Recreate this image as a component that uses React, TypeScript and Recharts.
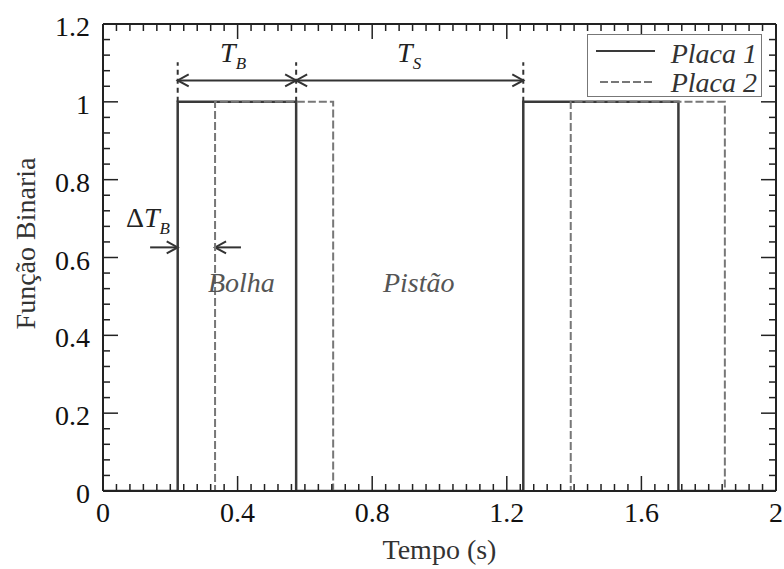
import { LineChart, Line, XAxis, YAxis, ReferenceLine, ReferenceDot, Legend } from 'recharts'

// ── Dados ─────────────────────────────────────────────────────────────────────

const placa1Tempo = [0, 0.222, 0.574, 1.249, 1.71, 2]
const placa1Valor = [0, 1, 0, 1, 0, 0]
const placa2Tempo = [0, 0.333, 0.684, 1.39, 1.848, 2]
const placa2Valor = [0, 1, 0, 1, 0, 0]

const xMajor = [0, 0.4, 0.8, 1.2, 1.6, 2]
const xMinor = [
  0, 0.04, 0.08, 0.12, 0.16, 0.2, 0.24, 0.28, 0.32, 0.36, 0.4, 0.44, 0.48, 0.52, 0.56, 0.6, 0.64,
  0.68, 0.72, 0.76, 0.8, 0.84, 0.88, 0.92, 0.96, 1, 1.04, 1.08, 1.12, 1.16, 1.2, 1.24, 1.28, 1.32,
  1.36, 1.4, 1.44, 1.48, 1.52, 1.56, 1.6, 1.64, 1.68, 1.72, 1.76, 1.8, 1.84, 1.88, 1.92, 1.96, 2,
]
const yMajor = [0, 0.2, 0.4, 0.6, 0.8, 1, 1.2]
const yMinor = [
  0, 0.04, 0.08, 0.12, 0.16, 0.2, 0.24, 0.28, 0.32, 0.36, 0.4, 0.44, 0.48, 0.52, 0.56, 0.6, 0.64,
  0.68, 0.72, 0.76, 0.8, 0.84, 0.88, 0.92, 0.96, 1, 1.04, 1.08, 1.12, 1.16, 1.2,
]

const placa1 = placa1Tempo.map((t, i) => ({ t, v: placa1Valor[i] }))
const placa2 = placa2Tempo.map((t, i) => ({ t, v: placa2Valor[i] }))

// annotation heights (data units)
const ySeta = 1.055
const yMarcaTopo = 1.102
const ySetaDelta = 0.626

const FONT = '"Liberation Serif", "Times New Roman", serif'
const AXIS = '#222'

const isMajor = (v: number, list: number[]) => list.some(m => Math.abs(m - v) < 1e-6)

// ── Ticks (inward, major + minor) ─────────────────────────────────────────────

function BottomTick({ x, y, payload }: any) {
  const major = isMajor(payload.value, xMajor)
  return (
    <g>
      <line x1={x} x2={x} y1={y} y2={y - (major ? 15 : 7)} stroke={AXIS} strokeWidth={1.5} />
      {major && (
        <text x={x} y={y + 31} textAnchor="middle" fontFamily={FONT} fontSize={28} fill="#111">
          {String(payload.value)}
        </text>
      )}
    </g>
  )
}

function TopTick({ x, y, payload }: any) {
  const major = isMajor(payload.value, xMajor)
  return <line x1={x} x2={x} y1={y} y2={y + (major ? 15 : 7)} stroke={AXIS} strokeWidth={1.5} />
}

function LeftTick({ x, y, payload }: any) {
  const major = isMajor(payload.value, yMajor)
  return (
    <g>
      <line x1={x} x2={x + (major ? 15 : 7)} y1={y} y2={y} stroke={AXIS} strokeWidth={1.5} />
      {major && (
        <text x={x - 13} y={y + 12} textAnchor="end" fontFamily={FONT} fontSize={28} fill="#111">
          {String(payload.value)}
        </text>
      )}
    </g>
  )
}

function RightTick({ x, y, payload }: any) {
  const major = isMajor(payload.value, yMajor)
  return <line x1={x} x2={x - (major ? 15 : 7)} y1={y} y2={y} stroke={AXIS} strokeWidth={1.5} />
}

// ── Annotations ───────────────────────────────────────────────────────────────

function seta(start: boolean, end: boolean) {
  return (p: any) => {
    const { x1, y1, x2, y2 } = p
    const d = x2 >= x1 ? 1 : -1
    return (
      <g stroke="#333" strokeWidth={2} fill="none">
        <line x1={x1} y1={y1} x2={x2} y2={y2} />
        {end && <path d={`M${x2 - d * 11},${y2 - 6} L${x2},${y2} L${x2 - d * 11},${y2 + 6}`} />}
        {start && <path d={`M${x1 + d * 11},${y1 - 6} L${x1},${y1} L${x1 + d * 11},${y1 + 6}`} />}
      </g>
    )
  }
}

function nota(kind: 'TB' | 'TS' | 'DTB' | 'Bolha' | 'Pistao') {
  return (props: any) => {
    const { x, y } = props.viewBox
    if (kind === 'Bolha' || kind === 'Pistao') {
      return (
        <text x={x} y={y} fontFamily={FONT} fontSize={28} fontStyle="italic" fill="#555">
          {kind === 'Bolha' ? 'Bolha' : 'Pistão'}
        </text>
      )
    }
    const sub = kind === 'TS' ? 'S' : 'B'
    return (
      <text x={x} y={y} fontFamily={FONT} fontSize={28} fill="#222">
        {kind === 'DTB' && <tspan>Δ</tspan>}
        <tspan fontStyle="italic">T</tspan>
        <tspan fontStyle="italic" fontSize={17} dy={7}>{sub}</tspan>
      </text>
    )
  }
}

// ── Legend ────────────────────────────────────────────────────────────────────

function LegendBox({ payload }: any) {
  return (
    <svg width={175} height={63} style={{ display: 'block' }}>
      <rect x={0.5} y={0.5} width={174} height={62} fill="#fff" stroke="#777" strokeWidth={1} />
      {(payload ?? []).map((e: any, i: number) => (
        <g key={e.value}>
          <line
            x1={i === 0 ? 9 : 13} x2={68} y1={17 + i * 31} y2={17 + i * 31}
            stroke={e.color} strokeWidth={2}
            strokeDasharray={e.payload?.strokeDasharray}
          />
          <text x={170} y={29 + i * 29} textAnchor="end" fontFamily={FONT} fontSize={28}
            fontStyle="italic" fill="#333">
            {e.value}
          </text>
        </g>
      ))}
    </svg>
  )
}

// ── Main ──────────────────────────────────────────────────────────────────────

export default function App() {
  return (
    <div style={{ position: 'absolute', left: 0, top: 0, background: '#fff' }}>
      <LineChart width={784} height={569} margin={{ top: 23, right: 7, bottom: 0, left: 0 }}>
        <XAxis
          xAxisId="bottom" dataKey="t" type="number" domain={[0, 2]} allowDataOverflow
          ticks={xMinor} interval={0} tick={<BottomTick />} tickLine={false}
          tickSize={0} tickMargin={0} height={78}
          axisLine={{ stroke: AXIS, strokeWidth: 2 }}
          label={(p: any) => (
            <text x={p.viewBox.x + p.viewBox.width / 2} y={p.viewBox.y + 68} textAnchor="middle"
              fontFamily={FONT} fontSize={28} fill="#333">
              Tempo (s)
            </text>
          )}
        />
        <XAxis
          xAxisId="top" orientation="top" dataKey="t" type="number" domain={[0, 2]} allowDataOverflow
          ticks={xMinor} interval={0} tick={<TopTick />} tickLine={false}
          tickSize={0} tickMargin={0} height={1}
          axisLine={{ stroke: AXIS, strokeWidth: 2 }}
        />
        <YAxis
          yAxisId="left" type="number" domain={[0, 1.2]} allowDataOverflow
          ticks={yMinor} interval={0} tick={<LeftTick />} tickLine={false}
          tickSize={0} tickMargin={0} width={103}
          axisLine={{ stroke: AXIS, strokeWidth: 2 }}
          label={(p: any) => {
            const cx = p.viewBox.x + 35
            const cy = p.viewBox.y + p.viewBox.height / 2 - 14
            return (
              <text transform={`translate(${cx},${cy}) rotate(-90)`} textAnchor="middle"
                fontFamily={FONT} fontSize={28} fill="#333">
                Função Binaria
              </text>
            )
          }}
        />
        <YAxis
          yAxisId="right" orientation="right" type="number" domain={[0, 1.2]} allowDataOverflow
          ticks={yMinor} interval={0} tick={<RightTick />} tickLine={false}
          tickSize={0} tickMargin={0} width={1}
          axisLine={{ stroke: AXIS, strokeWidth: 2 }}
        />

        {/* marker lines above the Placa 1 edges */}
        {[placa1Tempo[1], placa1Tempo[2], placa1Tempo[3]].map(t => (
          <ReferenceLine
            key={t} xAxisId="bottom" yAxisId="left"
            segment={[{ x: t, y: 1 }, { x: t, y: yMarcaTopo }]}
            stroke="#333" strokeWidth={2} strokeDasharray="5 4"
          />
        ))}
        <ReferenceLine
          xAxisId="bottom" yAxisId="left"
          segment={[{ x: placa1Tempo[1], y: ySeta }, { x: placa1Tempo[2], y: ySeta }]}
          shape={seta(true, true)}
        />
        <ReferenceLine
          xAxisId="bottom" yAxisId="left"
          segment={[{ x: placa1Tempo[2], y: ySeta }, { x: placa1Tempo[3], y: ySeta }]}
          shape={seta(true, true)}
        />
        <ReferenceLine
          xAxisId="bottom" yAxisId="left"
          segment={[{ x: 0.14, y: ySetaDelta }, { x: placa1Tempo[1], y: ySetaDelta }]}
          shape={seta(false, true)}
        />
        <ReferenceLine
          xAxisId="bottom" yAxisId="left"
          segment={[{ x: 0.41, y: ySetaDelta }, { x: placa2Tempo[1], y: ySetaDelta }]}
          shape={seta(false, true)}
        />

        <Line
          xAxisId="bottom" yAxisId="left" data={placa1} dataKey="v" name="Placa 1"
          type="stepAfter" stroke="#3a3a3a" strokeWidth={2.5} dot={false}
          isAnimationActive={false}
        />
        <Line
          xAxisId="bottom" yAxisId="left" data={placa2} dataKey="v" name="Placa 2"
          type="stepAfter" stroke="#777" strokeWidth={2} strokeDasharray="8 3" dot={false}
          isAnimationActive={false}
        />

        <ReferenceDot xAxisId="bottom" yAxisId="left" x={0.348} y={1.1017} r={0}
          fill="none" stroke="none" label={nota('TB')} />
        <ReferenceDot xAxisId="bottom" yAxisId="left" x={0.874} y={1.1017} r={0}
          fill="none" stroke="none" label={nota('TS')} />
        <ReferenceDot xAxisId="bottom" yAxisId="left" x={0.068} y={0.6795} r={0}
          fill="none" stroke="none" label={nota('DTB')} />
        <ReferenceDot xAxisId="bottom" yAxisId="left" x={0.312} y={0.512} r={0}
          fill="none" stroke="none" label={nota('Bolha')} />
        <ReferenceDot xAxisId="bottom" yAxisId="left" x={0.832} y={0.512} r={0}
          fill="none" stroke="none" label={nota('Pistao')} />

        <Legend
          layout="vertical" align="center" verticalAlign="middle"
          wrapperStyle={{ left: 587, top: 34, width: 175, height: 63 }}
          content={<LegendBox />}
        />
      </LineChart>
    </div>
  )
}
